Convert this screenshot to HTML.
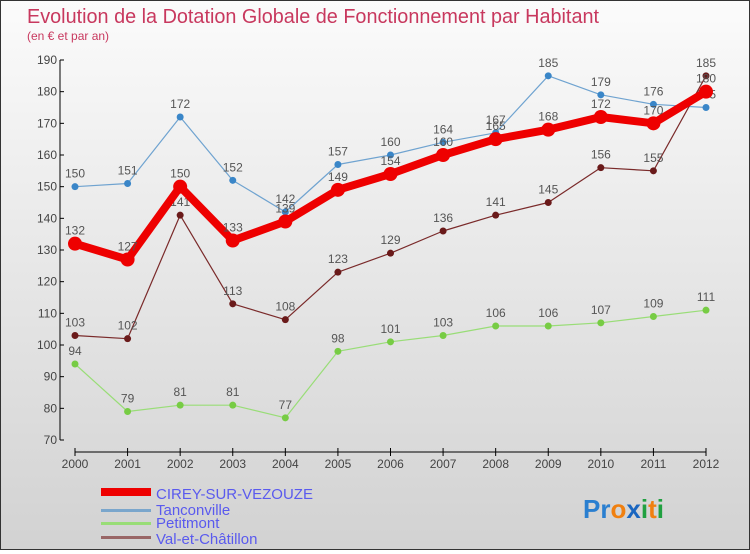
<!DOCTYPE html>
<html><head><meta charset="utf-8"><style>
body{margin:0;width:750px;height:550px;overflow:hidden;font-family:"Liberation Sans",sans-serif}
#wrap{position:relative;width:748px;height:548px;border:1px solid #333;background:linear-gradient(#fbfbfb,#d2d2d2)}
</style></head><body>
<div id="wrap">
<svg id="chart" width="748" height="548">
<text x="26" y="22" font-size="20" fill="#c8385e" textLength="572" lengthAdjust="spacingAndGlyphs">Evolution de la Dotation Globale de Fonctionnement par Habitant</text>
<text x="26" y="39" font-size="12" fill="#c8385e">(en € et par an)</text>
<g id="axes"></g><g id="series"></g>
<g>
<rect x="100" y="487" width="50" height="8" fill="#e00"/>
<text x="155" y="498" font-size="15" fill="#5a5aee">CIREY-SUR-VEZOUZE</text>
<rect x="100" y="508" width="50" height="3" fill="#7aa6cc"/>
<text x="155" y="514" font-size="15" fill="#5a5aee">Tanconville</text>
<rect x="100" y="521" width="50" height="3" fill="#99dd77"/>
<text x="155" y="527" font-size="15" fill="#5a5aee">Petitmont</text>
<rect x="100" y="535" width="50" height="3" fill="#996666"/>
<text x="155" y="543" font-size="15" fill="#5a5aee">Val-et-Châtillon</text>
</g>
<text x="582" y="517" font-size="26" font-weight="bold"><tspan fill="#2a7fd0">Pr</tspan><tspan fill="#f08010">o</tspan><tspan fill="#1a66c0">x</tspan><tspan fill="#20a040">i</tspan><tspan fill="#f08010">t</tspan><tspan fill="#20a040">i</tspan></text>
</svg></div>
<script>
const years=[2000,2001,2002,2003,2004,2005,2006,2007,2008,2009,2010,2011,2012];
const yTicks=[70,80,90,100,110,120,130,140,150,160,170,180,190];
const cirey=[132,127,150,133,139,149,154,160,165,168,172,170,180];
const tanconville=[150,151,172,152,142,157,160,164,167,185,179,176,175];
const petitmont=[94,79,81,81,77,98,101,103,106,106,107,109,111];
const valChatillon=[103,102,141,113,108,123,129,136,141,145,156,155,185];
const NS="http://www.w3.org/2000/svg";
const x=i=>74+i*(631/12);
const y=v=>59+(190-v)*(380/120);
function mk(tag,attrs,parent){const e=document.createElementNS(NS,tag);for(const k in attrs)e.setAttribute(k,attrs[k]);parent.appendChild(e);return e;}
const axes=document.getElementById('axes');
const ya=mk('line',{x1:59,y1:y(190),x2:59,y2:y(70),stroke:'#000'},axes);


yTicks.forEach(v=>{
 mk('line',{x1:59,x2:63,y1:y(v),y2:y(v),stroke:'#000'},axes);
 const t=mk('text',{x:56,y:y(v)+4,'font-size':12,'text-anchor':'end',fill:'#444'},axes);t.textContent=v;
 
 
});
const xa=mk('line',{x1:x(0),y1:451,x2:x(12),y2:451,stroke:'#000'},axes);


years.forEach((yr,i)=>{
 mk('line',{x1:x(i),x2:x(i),y1:447,y2:455,stroke:'#000'},axes);
 const t=mk('text',{x:x(i),y:467,'font-size':12,'text-anchor':'middle',fill:'#444'},axes);t.textContent=yr;
 
 
});
const sg=document.getElementById('series');
function draw(arr,color,w,r,dot,name){
 const g=mk('g',{},sg);
 
 
 const p=mk('polyline',{points:arr.map((v,i)=>x(i)+','+y(v)).join(' '),fill:'none',stroke:color,'stroke-width':w,'stroke-linejoin':'round'},g);
 
 
 arr.forEach((v,i)=>{
  const c=mk('circle',{cx:x(i),cy:y(v),r:r,fill:dot},g);
  
  
  const t=mk('text',{x:x(i),y:y(v)-9,'font-size':12,'text-anchor':'middle',fill:'#555'},g);t.textContent=v;
  
  
 });
}
draw(tanconville,'#6fa3d0',1.2,3.5,'#3a86c8','tanconville');
draw(petitmont,'#99dd77',1.2,3.5,'#77cc44','petitmont');
draw(valChatillon,'#7a2a2a',1.2,3.5,'#6a1a1a','val-et-chatillon');
draw(cirey,'#ee0000',8,7,'#ee0000','cirey');
</script>
</body></html>
